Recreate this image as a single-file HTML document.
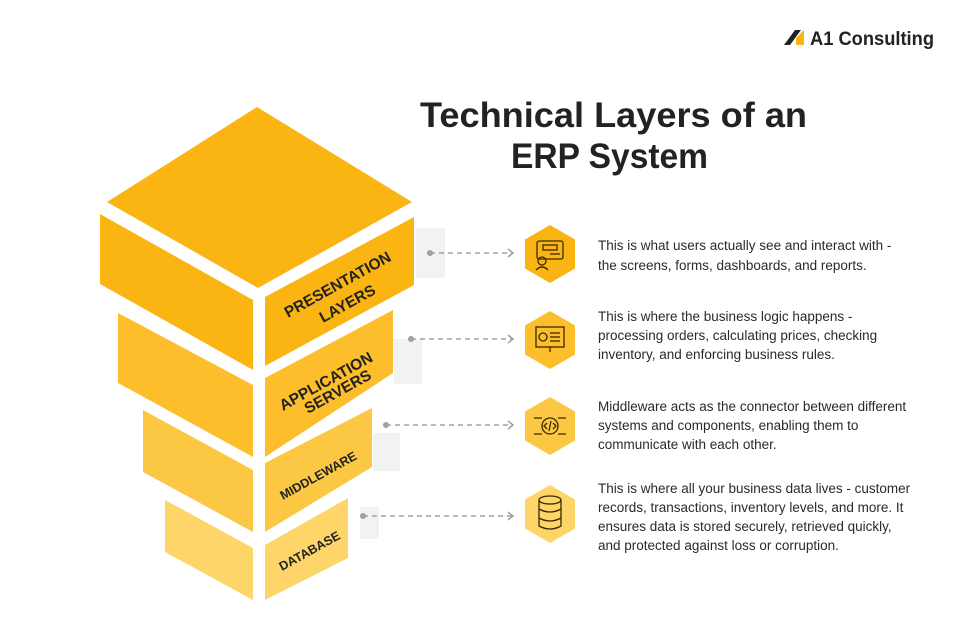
<!DOCTYPE html>
<html><head><meta charset="utf-8"><style>
html,body{margin:0;padding:0;background:#fff;}
svg{display:block;font-family:"Liberation Sans",Arial,sans-serif;}
</style></head><body>
<svg width="967" height="633" viewBox="0 0 967 633" xmlns="http://www.w3.org/2000/svg">
<rect width="967" height="633" fill="#fff"/>
<rect x="416" y="228" width="29" height="50" fill="#f2f2f2"/>
<rect x="394" y="339" width="28" height="45" fill="#f2f2f2"/>
<rect x="373" y="433" width="27" height="38" fill="#f2f2f2"/>
<rect x="360" y="507" width="19" height="32" fill="#f2f2f2"/>
<polygon points="165,500 253,548 253,600 165,552" fill="#fdd569"/>
<polygon points="265,545 348,498 348,558 265,600" fill="#fdd569"/>
<polygon points="143,410 253,470 253,532 143,472" fill="#fcc843"/>
<polygon points="265,463 372,408 372,467 265,532" fill="#fcc843"/>
<polygon points="118,313 253,385 253,457 118,383" fill="#fcbe2a"/>
<polygon points="265,378 393,310 393,373 265,457" fill="#fcbe2a"/>
<polygon points="100,214 253,300 253,370 100,284" fill="#fbb513"/>
<polygon points="265,297 414,217 414,285 265,366" fill="#fbb513"/>
<polygon points="107,202 257,107 412,202 258,288" fill="#fbb513"/>
<g fill="#222" font-weight="bold" font-size="15">
<text transform="translate(288,318) rotate(-29)" font-size="15.5">PRESENTATION</text>
<text transform="translate(323,323) rotate(-29)" font-size="15.5">LAYERS</text>
<text transform="translate(283,411) rotate(-29)" font-size="15.5">APPLICATION</text>
<text transform="translate(308,414) rotate(-29)" font-size="15.5">SERVERS</text>
<text transform="translate(283,500) rotate(-29)" font-size="12.5">MIDDLEWARE</text>
<text transform="translate(282,571) rotate(-29)" font-size="12.5">DATABASE</text>
</g>
<g stroke="#a0a0a0" stroke-width="1.5" fill="none">
<line x1="430" y1="253" x2="512" y2="253" stroke-dasharray="5,4"/>
<line x1="411" y1="339" x2="512" y2="339" stroke-dasharray="5,4"/>
<line x1="386" y1="425" x2="512" y2="425" stroke-dasharray="5,4"/>
<line x1="363" y1="516" x2="512" y2="516" stroke-dasharray="5,4"/>
<polyline points="508,249 513,253 508,257"/>
<polyline points="508,335 513,339 508,343"/>
<polyline points="508,421 513,425 508,429"/>
<polyline points="508,512 513,516 508,520"/>
</g>
<g fill="#a0a0a0"><circle cx="430" cy="253" r="3"/><circle cx="411" cy="339" r="3"/><circle cx="386" cy="425" r="3"/><circle cx="363" cy="516" r="3"/></g>
<polygon points="550,225 575,239.5 575,268.5 550,283 525,268.5 525,239.5" fill="#fbb513"/>
<polygon points="550,311 575,325.5 575,354.5 550,369 525,354.5 525,325.5" fill="#fcbe2a"/>
<polygon points="550,397 575,411.5 575,440.5 550,455 525,440.5 525,411.5" fill="#fcc843"/>
<polygon points="550,485 575,499.5 575,528.5 550,543 525,528.5 525,499.5" fill="#fdd569"/>
<g stroke="#3a2a00" stroke-width="1.3" fill="none">
<rect x="537" y="241" width="26" height="18" rx="2"/><rect x="543" y="245" width="14" height="5"/><line x1="550" y1="254" x2="560" y2="254"/>
<circle cx="542" cy="261" r="4"/><path d="M536 270 q6 -6 12 0"/>
<rect x="536" y="327" width="28" height="20"/><line x1="550" y1="347" x2="550" y2="352"/><circle cx="543" cy="337" r="4"/><line x1="550" y1="333" x2="560" y2="333"/><line x1="550" y1="337" x2="560" y2="337"/><line x1="550" y1="341" x2="560" y2="341"/>
<circle cx="550" cy="426" r="8"/><path d="M547 423 l-3 3 3 3 M553 423 l3 3 -3 3 M551 421 l-2 10"/><path d="M534 418 h8 M558 418 h8 M534 434 h8 M558 434 h8"/>
<ellipse cx="550" cy="500" rx="11" ry="4"/><path d="M539 500 v26 q11 6 22 0 v-26 M539 509 q11 6 22 0 M539 518 q11 6 22 0"/>
</g>
<g fill="#2a2a2a" font-size="13.5">
<text x="598" y="250">This is what users actually see and interact with -</text>
<text x="598" y="270">the screens, forms, dashboards, and reports.</text>
<text x="598" y="321">This is where the business logic happens -</text>
<text x="598" y="340">processing orders, calculating prices, checking</text>
<text x="598" y="359">inventory, and enforcing business rules.</text>
<text x="598" y="411">Middleware acts as the connector between different</text>
<text x="598" y="430">systems and components, enabling them to</text>
<text x="598" y="449">communicate with each other.</text>
<text x="598" y="493">This is where all your business data lives - customer</text>
<text x="598" y="512">records, transactions, inventory levels, and more. It</text>
<text x="598" y="531">ensures data is stored securely, retrieved quickly,</text>
<text x="598" y="550">and protected against loss or corruption.</text>
</g>
<g fill="#222" font-weight="bold" font-size="35">
<text x="420" y="127" textLength="387" lengthAdjust="spacingAndGlyphs">Technical Layers of an</text>
<text x="511" y="168" textLength="197" lengthAdjust="spacingAndGlyphs">ERP System</text>
</g>
<polygon points="784,45 795,30 801,30 790,45" fill="#222"/>
<polygon points="796,38 804,30 804,45 796,45" fill="#fbb513"/>
<text x="810" y="45" font-size="19" font-weight="bold" fill="#222" textLength="124" lengthAdjust="spacingAndGlyphs">A1 Consulting</text>
</svg>
</body></html>
